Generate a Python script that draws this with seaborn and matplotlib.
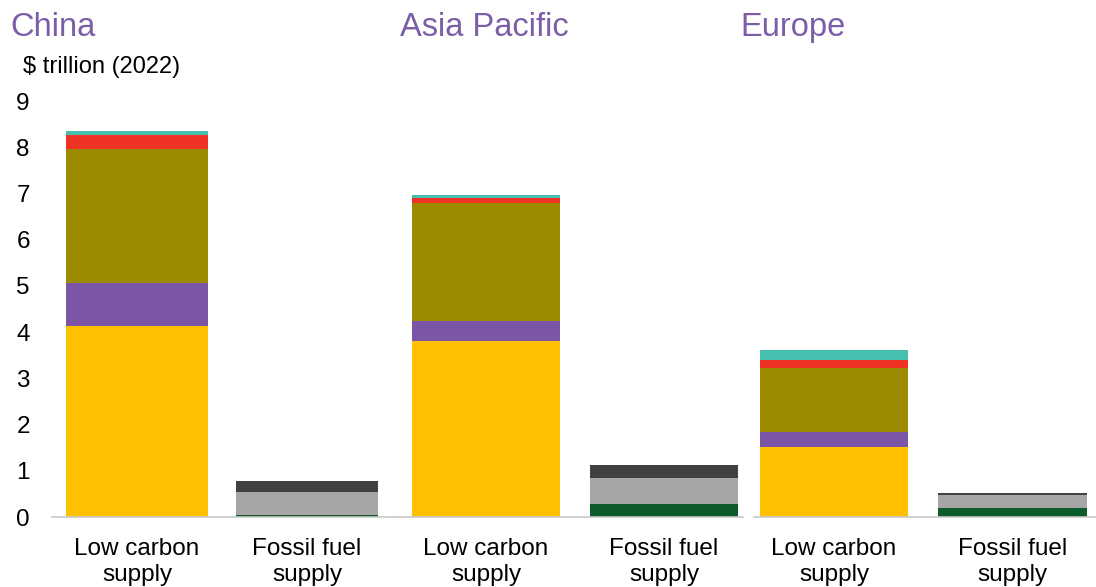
import matplotlib
matplotlib.use("Agg")
import matplotlib.pyplot as plt
import numpy as np
import pandas as pd
import seaborn as sns

sns.set_theme(style="white")
plt.rcParams["font.family"] = ["Liberation Sans", "DejaVu Sans"]
plt.rcParams["text.color"] = "black"
plt.rcParams["xtick.color"] = "black"
plt.rcParams["ytick.color"] = "black"

regions = ["China", "Asia Pacific", "Europe"]
categories = ["Low carbon\nsupply", "Fossil fuel\nsupply"]

# Layer thicknesses, $ trillion (2022); order = bottom to top
# Low carbon supply layers
lc_yellow = [4.13, 3.81, 1.52]
lc_purple = [0.93, 0.43, 0.32]
lc_olive = [2.91, 2.56, 1.38]
lc_red = [0.30, 0.10, 0.18]
lc_teal = [0.08, 0.07, 0.21]
# Fossil fuel supply layers
ff_green = [0.05, 0.28, 0.20]
ff_grey = [0.49, 0.56, 0.28]
ff_dark = [0.24, 0.29, 0.04]

y_ticks = list(range(0, 10))
y_unit = "$ trillion (2022)"

low_layers = [("#FFC000", lc_yellow), ("#7B55A6", lc_purple), ("#9C8A00", lc_olive),
              ("#EE3224", lc_red), ("#45BFAE", lc_teal)]
fossil_layers = [("#0D5A2B", ff_green), ("#A6A6A6", ff_grey), ("#404040", ff_dark)]

title_color = "#7B5EA7"
axis_color = "#C8C8C8"
label_size = 17.5

fig = plt.figure(figsize=(10.96, 5.87), dpi=100)
W, H = 1096, 587
panel_px = [(52, 395), (395, 743), (754, 1096)]
xlims = [(-0.5, 1.518), (-0.511, 1.444), (-0.449, 1.47)]
ax_bottom = (H - 517) / H
ax_height = (517 - 101) / H
title_x = [10, 400, 740]

for i, region in enumerate(regions):
    l, r = panel_px[i]
    ax = fig.add_axes([l / W, ax_bottom, (r - l) / W, ax_height])

    # stacked bars: draw cumulative totals from the top layer down
    for layers, cat in ((low_layers, categories[0]), (fossil_layers, categories[1])):
        vals = [v[i] for _, v in layers]
        cum = np.cumsum(vals)
        for k in range(len(layers) - 1, -1, -1):
            df = pd.DataFrame({"cat": pd.Categorical([cat], categories=categories),
                               "value": [cum[k]]})
            sns.barplot(data=df, x="cat", y="value", order=categories,
                        color=layers[k][0], saturation=1, width=0.835,
                        ax=ax, linewidth=0, errorbar=None)

    ax.set_xlim(*xlims[i])
    ax.set_ylim(0, 9)
    ax.set_xlabel("")
    ax.set_ylabel("")
    for side in ("top", "right", "left"):
        ax.spines[side].set_visible(False)
    ax.spines["bottom"].set_color(axis_color)
    ax.spines["bottom"].set_linewidth(1.2)
    ax.tick_params(axis="x", length=0, pad=15)
    ax.set_xticks([0, 1])
    ax.set_xticklabels(categories, fontsize=label_size, linespacing=1.25)
    # small ticks at panel edges
    edges = []
    if i > 0:
        edges.append(xlims[i][0])
    if i < 2:
        edges.append(xlims[i][1])
    ax.set_xticks(edges, minor=True)
    ax.tick_params(axis="x", which="minor", length=6, width=1.2, color=axis_color)
    if i == 0:
        ax.set_yticks(y_ticks)
        ax.set_yticklabels([str(t) for t in y_ticks], fontsize=label_size)
        ax.tick_params(axis="y", length=0, pad=16)
    else:
        ax.set_yticks([])

    fig.text(title_x[i] / W, 1 - 36 / H, region, color=title_color,
             fontsize=23.5, ha="left", va="baseline")

fig.text(23 / W, 1 - 73 / H, y_unit, fontsize=17, ha="left", va="baseline")

fig.savefig("out.png", dpi=100)
